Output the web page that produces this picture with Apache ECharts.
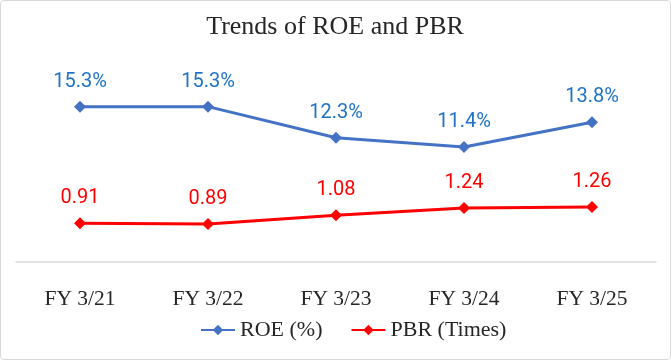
<!DOCTYPE html>
<html><head><meta charset="utf-8">
<script src="https://cdn.jsdelivr.net/npm/echarts@6/dist/echarts.min.js"></script>
<style>
html,body{margin:0;padding:0;background:#fff;}
#wrap{width:671px;height:360px;box-sizing:border-box;border:1.5px solid #d9d9d9;border-radius:4px;overflow:hidden;}
#c{width:668px;height:357px;}
</style></head>
<body><div id="wrap"><div id="c"></div></div>
<script>
const categories = ['FY 3/21','FY 3/22','FY 3/23','FY 3/24','FY 3/25'];
const roe = [15.3, 15.3, 12.3, 11.4, 13.8];
const pbr = [0.91, 0.89, 1.08, 1.24, 1.26];
const seriesNames = ['ROE (%)', 'PBR (Times)'];

const chart = echarts.init(document.getElementById('c'));
const serif = 'Liberation Serif';
const sans = 'Roboto';
const legendText = {fontFamily:serif,fontSize:22,color:'#262626',
  rich:{s:{fontFamily:serif,fontSize:22,color:'#262626'}}};
chart.setOption({
  animation:false,
  title:{text:'Trends of ROE and PBR',left:'center',top:8,
    textStyle:{fontFamily:serif,fontWeight:'normal',fontSize:26,color:'#262626'}},
  grid:{left:15,right:13,top:57,bottom:93},
  legend:{bottom:12,left:194,itemWidth:34,itemHeight:13,itemGap:28,
    textStyle:legendText,
    formatter:n=>'{s|'+n+'}',
    data:seriesNames},
  xAxis:{type:'category',data:categories,offset:-3,
    axisLine:{lineStyle:{color:'#d9d9d9',width:1.5}},axisTick:{show:false},
    axisLabel:{fontFamily:serif,fontSize:21.5,color:'#262626',margin:26}},
  yAxis:[
    {type:'value',min:0,max:20,show:false,splitLine:{show:false}},
    {type:'value',min:0,max:4.5,show:false,splitLine:{show:false}}
  ],
  series:[
    {name:seriesNames[0],type:'line',data:roe,yAxisIndex:0,symbol:'diamond',symbolSize:12,
     lineStyle:{color:'#4472c4',width:3},itemStyle:{color:'#4472c4'},
     label:{show:true,position:'top',distance:9,formatter:p=>p.value.toFixed(1)+'%',
       fontFamily:sans,fontSize:20,color:'#1f72c4'}},
    {name:seriesNames[1],type:'line',data:pbr,yAxisIndex:1,symbol:'diamond',symbolSize:12,
     lineStyle:{color:'#ff0000',width:3},itemStyle:{color:'#ff0000'},
     label:{show:true,position:'top',distance:9,formatter:p=>p.value.toFixed(2),
       fontFamily:sans,fontSize:20,color:'#ff0000'}}
  ]
});
</script></body></html>
